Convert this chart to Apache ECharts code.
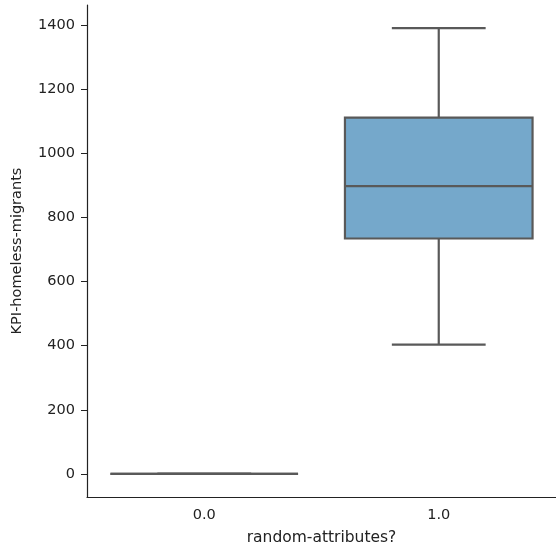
<!DOCTYPE html>
<html><head><meta charset="utf-8">
<script src="https://cdn.jsdelivr.net/npm/echarts@6/dist/echarts.min.js"></script>
<style>html,body{margin:0;padding:0;background:#fff}#c{width:556px;height:551px}</style>
</head><body><div id="c"></div>
<script>
const categories = ['0.0', '1.0'];
// [min, Q1, median, Q3, max]
const boxStats = [
  [0, 0, 0, 0, 0],
  [403, 734, 897, 1111, 1390]
];
const yTicks = [0, 200, 400, 600, 800, 1000, 1200, 1400];

const chart = echarts.init(document.getElementById('c'));
const edge = '#595959';
chart.setOption({
  animation: false,
  grid: { left: 87, top: 5, right: 0, bottom: 51 },
  xAxis: {
    type: 'category', data: categories,
    name: 'random-attributes?', nameLocation: 'middle', nameGap: 33,
    nameTextStyle: { fontFamily: 'DejaVu Sans', fontSize: 15.5, color: '#222' },
    axisLine: { onZero: false, lineStyle: { color: '#222', width: 1.2 } },
    axisTick: { alignWithLabel: true, length: 6, lineStyle: { color: '#222' } },
    axisLabel: { fontFamily: 'DejaVu Sans', fontSize: 14.5, color: '#222', margin: 11 }
  },
  yAxis: {
    type: 'value', min: -72, max: 1462,
    name: 'KPI-homeless-migrants', nameLocation: 'middle', nameGap: 62, nameRotate: 90,
    nameTextStyle: { fontFamily: 'DejaVu Sans', fontSize: 14.5, color: '#222' },
    axisLine: { show: true, lineStyle: { color: '#222', width: 1.2 } },
    axisTick: { show: true, length: 6, customValues: yTicks, lineStyle: { color: '#222' } },
    axisLabel: { fontFamily: 'DejaVu Sans', fontSize: 14.5, color: '#222', margin: 12,
      customValues: yTicks, formatter: v => String(v) },
    splitLine: { show: false }
  },
  series: [{
    type: 'custom',
    data: boxStats.map((s, i) => [i].concat(s)),
    encode: { x: 0, y: [1, 2, 3, 4, 5] },
    renderItem: function (params, api) {
      const i = api.value(0);
      const band = api.size([1, 0])[0];
      const bw = band * 0.8;
      const cw = bw / 2;
      const pMin = api.coord([i, api.value(1)]);
      const pQ1 = api.coord([i, api.value(2)]);
      const pMed = api.coord([i, api.value(3)]);
      const pQ3 = api.coord([i, api.value(4)]);
      const pMax = api.coord([i, api.value(5)]);
      const x = pMed[0];
      const ls = { stroke: edge, lineWidth: 2.2 };
      return {
        type: 'group',
        children: [
          { type: 'line', shape: { x1: x, y1: pQ3[1], x2: x, y2: pMax[1] }, style: ls },
          { type: 'line', shape: { x1: x, y1: pQ1[1], x2: x, y2: pMin[1] }, style: ls },
          { type: 'line', shape: { x1: x - cw / 2, y1: pMax[1], x2: x + cw / 2, y2: pMax[1] }, style: ls },
          { type: 'line', shape: { x1: x - cw / 2, y1: pMin[1], x2: x + cw / 2, y2: pMin[1] }, style: ls },
          { type: 'rect', shape: { x: x - bw / 2, y: pQ3[1], width: bw, height: pQ1[1] - pQ3[1] },
            style: { fill: '#75a8cb', stroke: edge, lineWidth: 2.2 } },
          { type: 'line', shape: { x1: x - bw / 2, y1: pMed[1], x2: x + bw / 2, y2: pMed[1] }, style: ls }
        ]
      };
    }
  }]
});
</script></body></html>
